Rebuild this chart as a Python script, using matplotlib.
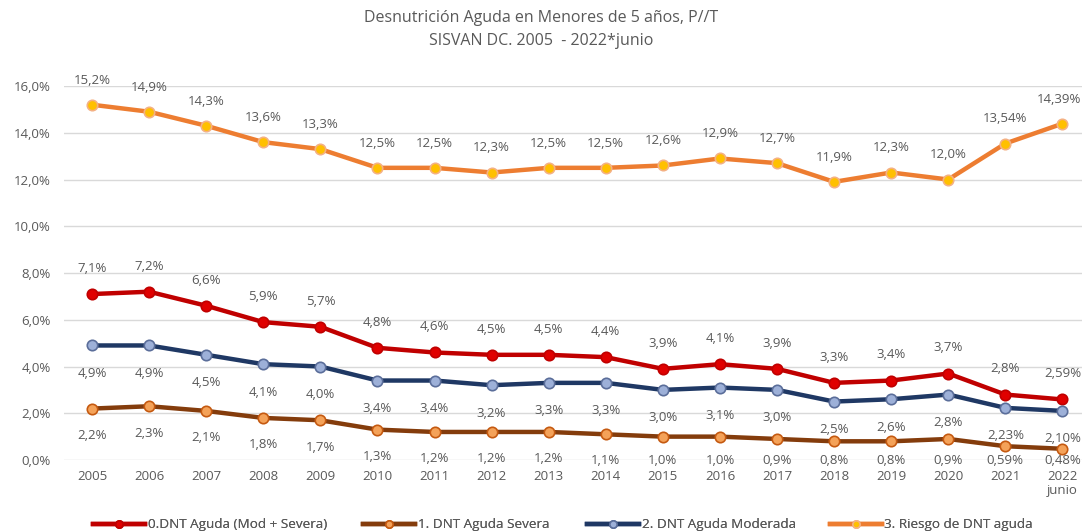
import matplotlib
matplotlib.use("Agg")
import matplotlib.pyplot as plt
from matplotlib.ticker import FuncFormatter

years = ["2005", "2006", "2007", "2008", "2009", "2010", "2011", "2012", "2013",
         "2014", "2015", "2016", "2017", "2018", "2019", "2020", "2021", "2022\njunio"]

dnt_total = [7.1, 7.2, 6.6, 5.9, 5.7, 4.8, 4.6, 4.5, 4.5, 4.4, 3.9, 4.1, 3.9, 3.3, 3.4, 3.7, 2.8, 2.59]
dnt_severa = [2.2, 2.3, 2.1, 1.8, 1.7, 1.3, 1.2, 1.2, 1.2, 1.1, 1.0, 1.0, 0.9, 0.8, 0.8, 0.9, 0.59, 0.48]
dnt_moderada = [4.9, 4.9, 4.5, 4.1, 4.0, 3.4, 3.4, 3.2, 3.3, 3.3, 3.0, 3.1, 3.0, 2.5, 2.6, 2.8, 2.23, 2.10]
riesgo_dnt = [15.2, 14.9, 14.3, 13.6, 13.3, 12.5, 12.5, 12.3, 12.5, 12.5, 12.6, 12.9, 12.7, 11.9, 12.3, 12.0, 13.54, 14.39]

# decimals shown in each data label (the 2021/2022 figures carry two)
total_dec = [1] * 17 + [2]
severa_dec = [1] * 16 + [2, 2]
moderada_dec = [1] * 16 + [2, 2]
riesgo_dec = [1] * 16 + [2, 2]

series_names = ["0.DNT Aguda (Mod + Severa)", "1. DNT Aguda Severa",
                "2. DNT Aguda Moderada", "3. Riesgo de DNT aguda"]

TEXT = "#595959"
FS = 9.5
plt.rcParams["font.family"] = ["Open Sans", "DejaVu Sans"]


def pct(v, d):
    return f"{v:.{d}f}".replace(".", ",") + "%"


fig = plt.figure(figsize=(10.82, 5.31), dpi=100)
ax = fig.add_axes([0.0587, 0.1337, 0.9496, 0.7043])

x = list(range(len(years)))
last = len(years) - 1

# values, decimals, line colour, marker fill, marker edge, label placement
styles = [
    (dnt_total, total_dec, "#C00000", "#E00000", "#C00000", lambda v: v + 1.1),
    (dnt_severa, severa_dec, "#843C0C", "#F4A259", "#C55A11", lambda v: max(v - 1.15, 0.0)),
    (dnt_moderada, moderada_dec, "#1F3864", "#9DB0D8", "#5B6E9A", lambda v: v - 1.2),
    (riesgo_dnt, riesgo_dec, "#ED7D31", "#FFC000", "#F4B183", lambda v: v + 1.05),
]

handles = []
for (vals, decs, lc, mfc, mec, place), name in zip(styles, series_names):
    h, = ax.plot(x, vals, color=lc, lw=3.2, marker="o", ms=7.5,
                 mfc=mfc, mec=mec, mew=1.2, label=name, zorder=3)
    handles.append(h)
    for xi, v, d in zip(x, vals, decs):
        # keep the right-most labels inside the figure edge
        if xi == last:
            ax.text(xi + 0.33, place(v), pct(v, d), ha="right", va="center",
                    fontsize=FS, color=TEXT)
        else:
            ax.text(xi, place(v), pct(v, d), ha="center", va="center",
                    fontsize=FS, color=TEXT)

ax.set_xlim(-0.5, len(years) - 0.5)
ax.set_ylim(0, 16)
ax.set_yticks([0, 2, 4, 6, 8, 10, 12, 14, 16])
ax.yaxis.set_major_formatter(FuncFormatter(lambda v, _: f"{v:.1f}".replace(".", ",") + "%"))
ax.set_xticks(x)
ax.set_xticklabels(years, linespacing=1.15)
ax.tick_params(axis="both", length=0, labelsize=FS, labelcolor=TEXT)
ax.tick_params(axis="x", pad=7)
ax.tick_params(axis="y", pad=9)
ax.grid(axis="y", color="#D9D9D9", lw=1)
ax.set_axisbelow(True)
for sp in ax.spines.values():
    sp.set_visible(False)

fig.text(0.5, 0.966, "Desnutrición Aguda en Menores de 5 años, P//T", ha="center", va="center",
         fontsize=11.5, color=TEXT)
fig.text(0.5, 0.922, "SISVAN DC. 2005  - 2022*junio", ha="center", va="center",
         fontsize=11.5, color=TEXT)

# one legend entry per slot along the bottom
legend_x = [0.086, 0.3355, 0.5425, 0.767]
for h, lx in zip(handles, legend_x):
    leg = fig.legend(handles=[h], loc="center left", bbox_to_anchor=(lx, 0.0115),
                     frameon=False, fontsize=9.7, labelcolor=TEXT, handlelength=3.85,
                     handletextpad=0.2, borderpad=0, borderaxespad=0, markerscale=0.7)
    fig.add_artist(leg)

fig.savefig("out.png", dpi=100)
